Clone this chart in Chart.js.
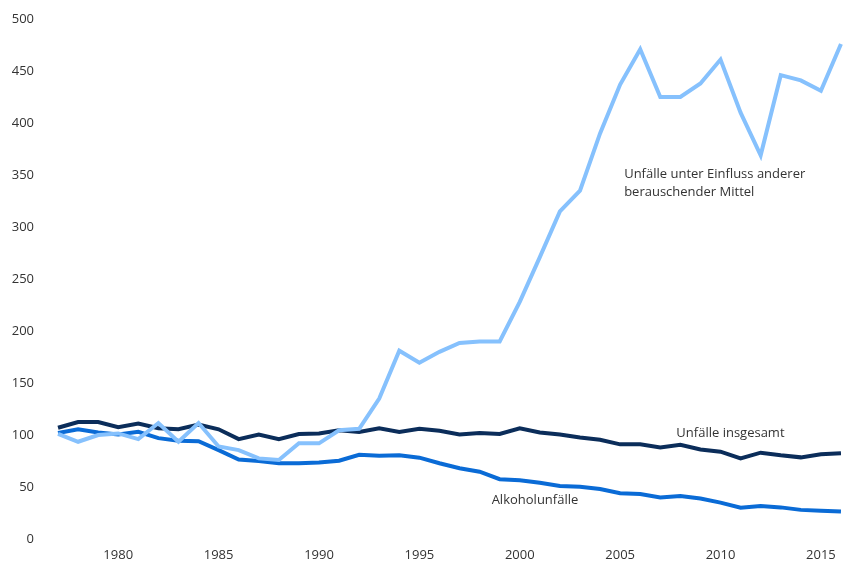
<!DOCTYPE html>
<html>
<head>
<meta charset="utf-8">
<script src="https://cdn.jsdelivr.net/npm/chart.js@4/dist/chart.umd.min.js"></script>
<style>
  html, body { margin: 0; padding: 0; background: #fff; overflow: hidden; }
  #wrap { width: 848px; height: 563px; position: relative; }
</style>
</head>
<body>
<div id="wrap"><canvas id="c" width="848" height="563"></canvas></div>
<script>
// Data (Index values)
const years = [1977,1978,1979,1980,1981,1982,1983,1984,1985,1986,1987,1988,1989,1990,1991,1992,1993,1994,1995,1996,1997,1998,1999,2000,2001,2002,2003,2004,2005,2006,2007,2008,2009,2010,2011,2012,2013,2014,2015,2016];
const unfaelleInsgesamt = [107,112.5,112.5,107.5,111,106.5,105.5,110,105.5,96,100.5,96,101,101.5,104.5,103,106.5,103,106,104,100.5,102,101,106.5,102.5,100.5,97.5,95.5,91,91,88,90.5,86,84,77.5,83,80.5,78.5,81.5,82.5];
const alkoholunfaelle = [102,105.5,102.5,100.5,103,97,94.5,94,85.5,76.5,75,72.8,72.8,73.5,75.3,81,80,80.5,78.2,72.8,68,64.7,57.5,56.5,54,51,50.3,48,44,43.3,40,41.3,39,35,30,31.7,30.4,28,27.2,26.5];
const andereMittel = [101,93.5,100,101.5,96,111.5,93.5,111.5,89,85.5,77.5,76,92,92,104.5,106,135,181,169.5,180,188.5,190,190,228,271,315,335,390,437,471,425,425,438,461,410,369,446,441,431,476];
const xTicks = [1980,1985,1990,1995,2000,2005,2010,2015];
const yTicks = [0,50,100,150,200,250,300,350,400,450,500];
const seriesNames = ['Unfälle insgesamt','Alkoholunfälle','Unfälle unter Einfluss anderer berauschender Mittel'];

const textColor = '#333333';
const fontFamily = '"Open Sans", sans-serif';

// Text labels placed in data coordinates
const annotations = [
  { lines: ['Unfälle insgesamt'], x: 2007.8, y: 102 },
  { lines: ['Alkoholunfälle'], x: 1998.6, y: 37.5 },
  { lines: ['Unfälle unter Einfluss anderer', 'berauschender Mittel'], x: 2005.2, y: 351 }
];

const labelPlugin = {
  id: 'labels',
  afterDatasetsDraw(chart) {
    const ctx = chart.ctx;
    const xs = chart.scales.x, ys = chart.scales.y;
    ctx.save();
    ctx.fillStyle = textColor;
    ctx.font = '13px ' + fontFamily;
    ctx.textAlign = 'left';
    ctx.textBaseline = 'middle';
    annotations.forEach(a => {
      const px = xs.getPixelForValue(a.x);
      const py = ys.getPixelForValue(a.y);
      a.lines.forEach((t, i) => ctx.fillText(t, px, py + i * 18));
    });
    ctx.restore();
  }
};

const mk = (vals) => years.map((y, i) => ({ x: y, y: vals[i] }));

new Chart(document.getElementById('c'), {
  type: 'line',
  data: {
    datasets: [
      { label: seriesNames[2], data: mk(andereMittel), borderColor: '#86c1fd', borderWidth: 4, pointRadius: 0, tension: 0, borderJoinStyle: 'miter' },
      { label: seriesNames[1], data: mk(alkoholunfaelle), borderColor: '#0a6bd6', borderWidth: 4, pointRadius: 0, tension: 0, borderJoinStyle: 'miter' },
      { label: seriesNames[0], data: mk(unfaelleInsgesamt), borderColor: '#0b2d5a', borderWidth: 4, pointRadius: 0, tension: 0, borderJoinStyle: 'miter' }
    ]
  },
  options: {
    responsive: false,
    animation: false,
    events: [],
    layout: { padding: { top: 19, right: 0, left: 0, bottom: 0 } },
    plugins: { legend: { display: false }, tooltip: { enabled: false } },
    scales: {
      x: {
        type: 'linear',
        min: 1976.85,
        max: 2016.35,
        grid: { display: false, drawTicks: false },
        border: { display: false },
        afterBuildTicks: s => { s.ticks = xTicks.map(v => ({ value: v })); },
        afterFit: s => { s.height = 24; s.paddingLeft = 0; s.paddingRight = 0; },
        ticks: {
          color: textColor,
          font: { family: fontFamily, size: 13 },
          padding: 8,
          maxRotation: 0,
          autoSkip: false,
          callback: v => String(v)
        }
      },
      y: {
        min: 0,
        max: 500,
        grid: { display: false, drawTicks: false },
        border: { display: false },
        afterBuildTicks: s => { s.ticks = yTicks.map(v => ({ value: v })); },
        afterFit: s => { s.width = 55; s.paddingTop = 0; s.paddingBottom = 0; },
        ticks: {
          color: textColor,
          font: { family: fontFamily, size: 13 },
          padding: 21,
          callback: v => String(v)
        }
      }
    }
  },
  plugins: [labelPlugin]
});
</script>
</body>
</html>
